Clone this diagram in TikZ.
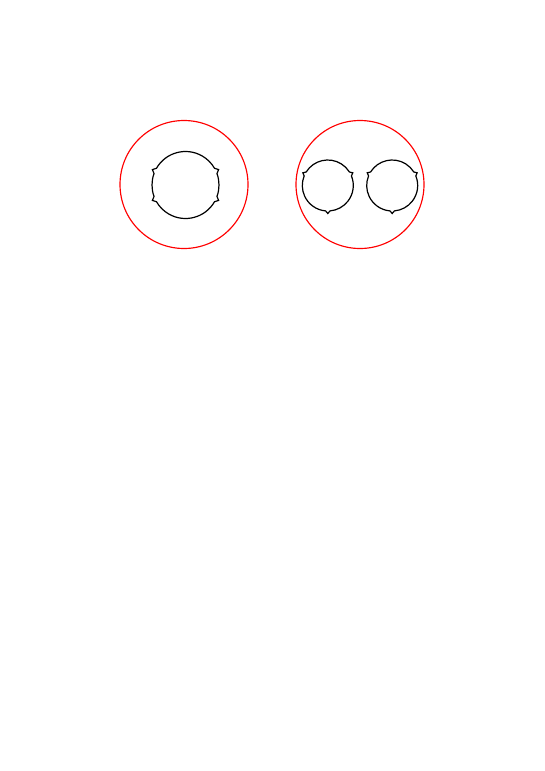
\documentclass[tikz,border=0pt]{standalone}
\begin{document}
\begin{tikzpicture}[x=1pt,y=1pt,
  outer/.style={draw=red, line width=1.15pt},
  blob/.style={draw=black, line width=1.2pt, line join=miter}]
\useasboundingbox (0,0) rectangle (545,-771);
\draw[outer] (184,-184.5) circle (64);
\draw[outer] (360,-184.5) circle (64);
\begin{scope}[shift={(185.5,-185)}]
\draw[blob] (155:36.5) -- (150:33.5) arc[start angle=150,end angle=30,radius=33.5]
  -- (25:36.5) -- (20:33.5) arc[start angle=20,end angle=-20,radius=33.5]
  -- (-25:36.5) -- (-30:33.5) arc[start angle=-30,end angle=-150,radius=33.5]
  -- (-155:36.5) -- (-160:33.5) arc[start angle=200,end angle=160,radius=33.5] -- cycle;
\end{scope}
\foreach \cx in {327.8,392.2}{
\begin{scope}[shift={(\cx,-185.5)}]
\draw[blob] (153:28) -- (148:25.5) arc[start angle=148,end angle=32,radius=25.5]
  -- (27:28) -- (22:25.5) arc[start angle=22,end angle=-85,radius=25.5]
  -- (270:28) -- (-95:25.5) arc[start angle=-95,end angle=-202,radius=25.5] -- cycle;
\end{scope}}
\end{tikzpicture}
\end{document}
